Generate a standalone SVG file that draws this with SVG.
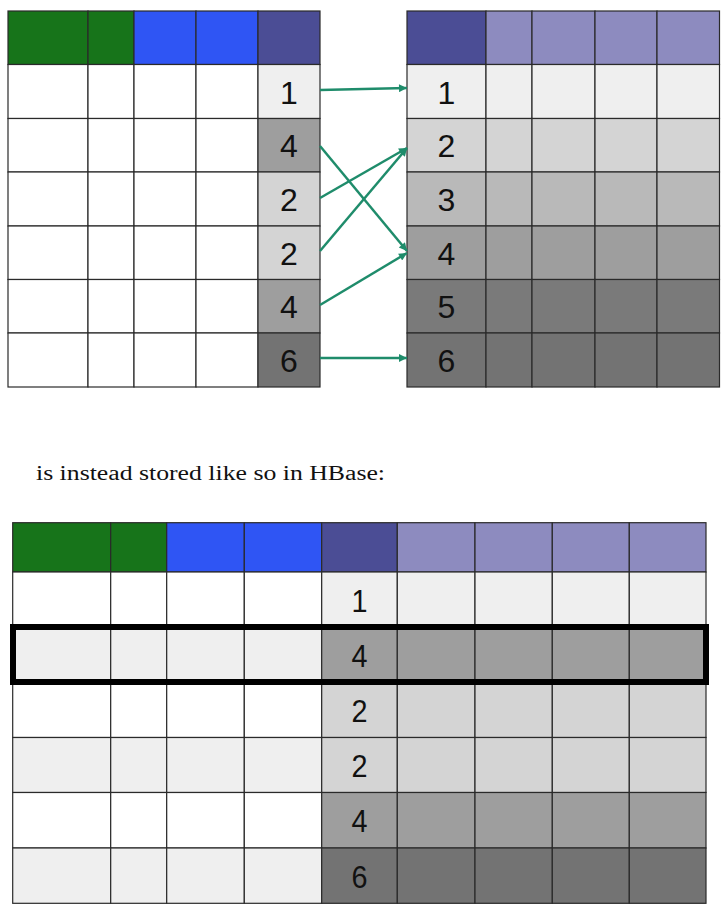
<svg xmlns="http://www.w3.org/2000/svg" width="725" height="918" viewBox="0 0 725 918">
<style>
rect{stroke:#2a2a2a;stroke-width:1.2}
.gr{fill:#17741A}.bl{fill:#2F55F4}.dp{fill:#4B4D95}.lp{fill:#8D8BBF}
.w{fill:#FFFFFF}.g1{fill:#EFEFEF}.g2{fill:#D4D4D4}.g3{fill:#B9B9B9}.g4{fill:#9E9E9E}.g5{fill:#7A7A7A}.g6{fill:#737373}
.d{font-family:"Liberation Sans",Arial,sans-serif;font-size:32px;fill:#111;text-anchor:middle}
.db{font-family:"Liberation Sans",Arial,sans-serif;font-size:32px;fill:#111;text-anchor:middle}
.cap{font-family:"Liberation Serif","Times New Roman",serif;font-size:20px;fill:#111}
.hl{fill:none;stroke:#000;stroke-width:6}
.arr{stroke:#1F8C6B;stroke-width:2.5;fill:none;marker-end:url(#ah)}
</style>
<defs>
<marker id="ah" viewBox="0 0 10 10" refX="10" refY="5" markerWidth="4" markerHeight="3.2" orient="auto" markerUnits="strokeWidth">
<path d="M0,0 L10,5 L0,10 z" fill="#1F8C6B"/>
</marker>
</defs>
<rect x="0" y="0" width="725" height="918" style="fill:#fff;stroke:none"/>

<g id="table-left">
<rect class="gr" x="8" y="11" width="80" height="53.5"/>
<rect class="gr" x="88" y="11" width="46" height="53.5"/>
<rect class="bl" x="134" y="11" width="62" height="53.5"/>
<rect class="bl" x="196" y="11" width="62" height="53.5"/>
<rect class="dp" x="258" y="11" width="62" height="53.5"/>
<g id="tl-r1"><rect class="w" x="8" y="64.5" width="80" height="54"/><rect class="w" x="88" y="64.5" width="46" height="54"/><rect class="w" x="134" y="64.5" width="62" height="54"/><rect class="w" x="196" y="64.5" width="62" height="54"/><rect class="g1" x="258" y="64.5" width="62" height="54"/><text class="d" x="289" y="103.5">1</text></g>
<g id="tl-r2"><rect class="w" x="8" y="118.5" width="80" height="53.5"/><rect class="w" x="88" y="118.5" width="46" height="53.5"/><rect class="w" x="134" y="118.5" width="62" height="53.5"/><rect class="w" x="196" y="118.5" width="62" height="53.5"/><rect class="g4" x="258" y="118.5" width="62" height="53.5"/><text class="d" x="289" y="157">4</text></g>
<g id="tl-r3"><rect class="w" x="8" y="172" width="80" height="54"/><rect class="w" x="88" y="172" width="46" height="54"/><rect class="w" x="134" y="172" width="62" height="54"/><rect class="w" x="196" y="172" width="62" height="54"/><rect class="g2" x="258" y="172" width="62" height="54"/><text class="d" x="289" y="211">2</text></g>
<g id="tl-r4"><rect class="w" x="8" y="226" width="80" height="53.5"/><rect class="w" x="88" y="226" width="46" height="53.5"/><rect class="w" x="134" y="226" width="62" height="53.5"/><rect class="w" x="196" y="226" width="62" height="53.5"/><rect class="g2" x="258" y="226" width="62" height="53.5"/><text class="d" x="289" y="264.5">2</text></g>
<g id="tl-r5"><rect class="w" x="8" y="279.5" width="80" height="53.5"/><rect class="w" x="88" y="279.5" width="46" height="53.5"/><rect class="w" x="134" y="279.5" width="62" height="53.5"/><rect class="w" x="196" y="279.5" width="62" height="53.5"/><rect class="g4" x="258" y="279.5" width="62" height="53.5"/><text class="d" x="289" y="318">4</text></g>
<g id="tl-r6"><rect class="w" x="8" y="333" width="80" height="54"/><rect class="w" x="88" y="333" width="46" height="54"/><rect class="w" x="134" y="333" width="62" height="54"/><rect class="w" x="196" y="333" width="62" height="54"/><rect class="g6" x="258" y="333" width="62" height="54"/><text class="d" x="289" y="372">6</text></g>
</g>

<g id="table-right">
<rect class="dp" x="407" y="11" width="79" height="53.5"/>
<rect class="lp" x="486" y="11" width="46" height="53.5"/>
<rect class="lp" x="532" y="11" width="63" height="53.5"/>
<rect class="lp" x="595" y="11" width="62" height="53.5"/>
<rect class="lp" x="657" y="11" width="62.5" height="53.5"/>
<g id="tr-r1"><rect class="g1" x="407" y="64.5" width="79" height="54"/><rect class="g1" x="486" y="64.5" width="46" height="54"/><rect class="g1" x="532" y="64.5" width="63" height="54"/><rect class="g1" x="595" y="64.5" width="62" height="54"/><rect class="g1" x="657" y="64.5" width="62.5" height="54"/><text class="d" x="446.5" y="103.5">1</text></g>
<g id="tr-r2"><rect class="g2" x="407" y="118.5" width="79" height="53.5"/><rect class="g2" x="486" y="118.5" width="46" height="53.5"/><rect class="g2" x="532" y="118.5" width="63" height="53.5"/><rect class="g2" x="595" y="118.5" width="62" height="53.5"/><rect class="g2" x="657" y="118.5" width="62.5" height="53.5"/><text class="d" x="446.5" y="157">2</text></g>
<g id="tr-r3"><rect class="g3" x="407" y="172" width="79" height="54"/><rect class="g3" x="486" y="172" width="46" height="54"/><rect class="g3" x="532" y="172" width="63" height="54"/><rect class="g3" x="595" y="172" width="62" height="54"/><rect class="g3" x="657" y="172" width="62.5" height="54"/><text class="d" x="446.5" y="211">3</text></g>
<g id="tr-r4"><rect class="g4" x="407" y="226" width="79" height="53.5"/><rect class="g4" x="486" y="226" width="46" height="53.5"/><rect class="g4" x="532" y="226" width="63" height="53.5"/><rect class="g4" x="595" y="226" width="62" height="53.5"/><rect class="g4" x="657" y="226" width="62.5" height="53.5"/><text class="d" x="446.5" y="264.5">4</text></g>
<g id="tr-r5"><rect class="g5" x="407" y="279.5" width="79" height="53.5"/><rect class="g5" x="486" y="279.5" width="46" height="53.5"/><rect class="g5" x="532" y="279.5" width="63" height="53.5"/><rect class="g5" x="595" y="279.5" width="62" height="53.5"/><rect class="g5" x="657" y="279.5" width="62.5" height="53.5"/><text class="d" x="446.5" y="318">5</text></g>
<g id="tr-r6"><rect class="g6" x="407" y="333" width="79" height="54"/><rect class="g6" x="486" y="333" width="46" height="54"/><rect class="g6" x="532" y="333" width="63" height="54"/><rect class="g6" x="595" y="333" width="62" height="54"/><rect class="g6" x="657" y="333" width="62.5" height="54"/><text class="d" x="446.5" y="372">6</text></g>
</g>

<g id="connectors">
<line class="arr" x1="320" y1="90" x2="407" y2="88"/>
<line class="arr" x1="320" y1="146" x2="407" y2="251"/>
<line class="arr" x1="320" y1="198" x2="407" y2="148"/>
<line class="arr" x1="320" y1="251" x2="407" y2="148"/>
<line class="arr" x1="320" y1="305" x2="407" y2="253"/>
<line class="arr" x1="320" y1="358" x2="407" y2="358"/>
</g>

<g id="caption"><text class="cap" x="36" y="480" textLength="349" lengthAdjust="spacingAndGlyphs">is instead stored like so in HBase:</text></g>

<g id="table-hbase">
<rect class="gr" x="12.7" y="522.7" width="98" height="49.3"/>
<rect class="gr" x="110.7" y="522.7" width="56" height="49.3"/>
<rect class="bl" x="166.7" y="522.7" width="77.6" height="49.3"/>
<rect class="bl" x="244.3" y="522.7" width="77.4" height="49.3"/>
<rect class="dp" x="321.7" y="522.7" width="75.6" height="49.3"/>
<rect class="lp" x="397.3" y="522.7" width="77.7" height="49.3"/>
<rect class="lp" x="475" y="522.7" width="77.3" height="49.3"/>
<rect class="lp" x="552.3" y="522.7" width="77" height="49.3"/>
<rect class="lp" x="629.3" y="522.7" width="76.7" height="49.3"/>
<g id="hb-r1"><rect class="w" x="12.7" y="572" width="98" height="55"/><rect class="w" x="110.7" y="572" width="56" height="55"/><rect class="w" x="166.7" y="572" width="77.6" height="55"/><rect class="w" x="244.3" y="572" width="77.4" height="55"/><rect class="g1" x="321.7" y="572" width="75.6" height="55"/><rect class="g1" x="397.3" y="572" width="77.7" height="55"/><rect class="g1" x="475" y="572" width="77.3" height="55"/><rect class="g1" x="552.3" y="572" width="77" height="55"/><rect class="g1" x="629.3" y="572" width="76.7" height="55"/><text class="db" x="359.5" y="611.5" textLength="16" lengthAdjust="spacingAndGlyphs">1</text></g>
<g id="hb-r2"><rect class="g1" x="12.7" y="627" width="98" height="55"/><rect class="g1" x="110.7" y="627" width="56" height="55"/><rect class="g1" x="166.7" y="627" width="77.6" height="55"/><rect class="g1" x="244.3" y="627" width="77.4" height="55"/><rect class="g4" x="321.7" y="627" width="75.6" height="55"/><rect class="g4" x="397.3" y="627" width="77.7" height="55"/><rect class="g4" x="475" y="627" width="77.3" height="55"/><rect class="g4" x="552.3" y="627" width="77" height="55"/><rect class="g4" x="629.3" y="627" width="76.7" height="55"/><text class="db" x="359.5" y="666.5" textLength="16" lengthAdjust="spacingAndGlyphs">4</text></g>
<g id="hb-r3"><rect class="w" x="12.7" y="682" width="98" height="55.5"/><rect class="w" x="110.7" y="682" width="56" height="55.5"/><rect class="w" x="166.7" y="682" width="77.6" height="55.5"/><rect class="w" x="244.3" y="682" width="77.4" height="55.5"/><rect class="g2" x="321.7" y="682" width="75.6" height="55.5"/><rect class="g2" x="397.3" y="682" width="77.7" height="55.5"/><rect class="g2" x="475" y="682" width="77.3" height="55.5"/><rect class="g2" x="552.3" y="682" width="77" height="55.5"/><rect class="g2" x="629.3" y="682" width="76.7" height="55.5"/><text class="db" x="359.5" y="721.8" textLength="16" lengthAdjust="spacingAndGlyphs">2</text></g>
<g id="hb-r4"><rect class="g1" x="12.7" y="737.5" width="98" height="55"/><rect class="g1" x="110.7" y="737.5" width="56" height="55"/><rect class="g1" x="166.7" y="737.5" width="77.6" height="55"/><rect class="g1" x="244.3" y="737.5" width="77.4" height="55"/><rect class="g2" x="321.7" y="737.5" width="75.6" height="55"/><rect class="g2" x="397.3" y="737.5" width="77.7" height="55"/><rect class="g2" x="475" y="737.5" width="77.3" height="55"/><rect class="g2" x="552.3" y="737.5" width="77" height="55"/><rect class="g2" x="629.3" y="737.5" width="76.7" height="55"/><text class="db" x="359.5" y="777" textLength="16" lengthAdjust="spacingAndGlyphs">2</text></g>
<g id="hb-r5"><rect class="w" x="12.7" y="792.5" width="98" height="55.5"/><rect class="w" x="110.7" y="792.5" width="56" height="55.5"/><rect class="w" x="166.7" y="792.5" width="77.6" height="55.5"/><rect class="w" x="244.3" y="792.5" width="77.4" height="55.5"/><rect class="g4" x="321.7" y="792.5" width="75.6" height="55.5"/><rect class="g4" x="397.3" y="792.5" width="77.7" height="55.5"/><rect class="g4" x="475" y="792.5" width="77.3" height="55.5"/><rect class="g4" x="552.3" y="792.5" width="77" height="55.5"/><rect class="g4" x="629.3" y="792.5" width="76.7" height="55.5"/><text class="db" x="359.5" y="832" textLength="16" lengthAdjust="spacingAndGlyphs">4</text></g>
<g id="hb-r6"><rect class="g1" x="12.7" y="848" width="98" height="55.3"/><rect class="g1" x="110.7" y="848" width="56" height="55.3"/><rect class="g1" x="166.7" y="848" width="77.6" height="55.3"/><rect class="g1" x="244.3" y="848" width="77.4" height="55.3"/><rect class="g6" x="321.7" y="848" width="75.6" height="55.3"/><rect class="g6" x="397.3" y="848" width="77.7" height="55.3"/><rect class="g6" x="475" y="848" width="77.3" height="55.3"/><rect class="g6" x="552.3" y="848" width="77" height="55.3"/><rect class="g6" x="629.3" y="848" width="76.7" height="55.3"/><text class="db" x="359.5" y="887.6" textLength="16" lengthAdjust="spacingAndGlyphs">6</text></g>
<rect id="hb-highlight" class="hl" x="13" y="627" width="693" height="55"/>
</g>
</svg>
